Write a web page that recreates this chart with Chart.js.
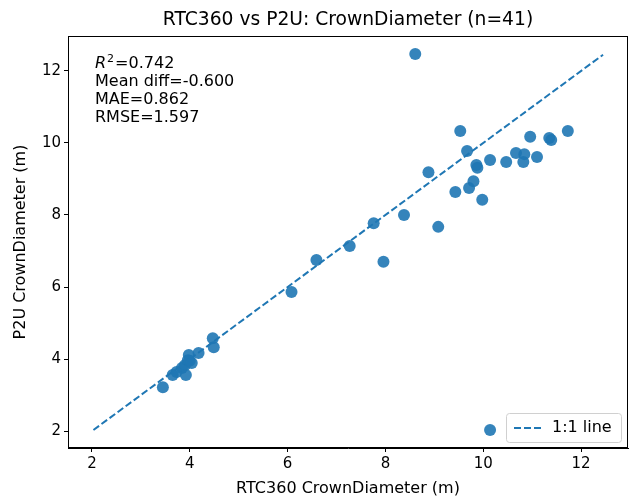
<!DOCTYPE html>
<html>
<head>
<meta charset="utf-8">
<script src="https://cdn.jsdelivr.net/npm/chart.js@4/dist/chart.umd.min.js"></script>
<style>
  body { margin: 0; background: #fff; }
</style>
</head>
<body>
<canvas id="chart1" width="635" height="498"></canvas>
<script>
const rtc360 = [3.45, 3.65, 3.73, 3.84, 3.90, 3.92, 3.96, 3.98, 4.00, 4.04, 4.18, 4.47, 4.49,
  6.08, 6.59, 7.27, 7.76, 7.96, 8.38, 8.61, 8.88, 9.08, 9.43, 9.53, 9.67, 9.71, 9.80, 9.86,
  9.88, 9.98, 10.14, 10.14, 10.47, 10.67, 10.82, 10.84, 10.96, 11.10, 11.35, 11.39, 11.73];
const p2u = [3.22, 3.56, 3.64, 3.75, 3.83, 3.56, 3.97, 4.11, 3.95, 3.89, 4.17, 4.58, 4.33,
  5.86, 6.75, 7.14, 7.77, 6.70, 8.00, 12.47, 9.19, 7.67, 8.64, 10.33, 9.78, 8.75, 8.94, 9.39,
  9.31, 8.42, 9.53, 2.03, 9.47, 9.72, 9.47, 9.69, 10.17, 9.61, 10.14, 10.08, 10.33];
const lineEnds = [2.03, 12.45];
const tickValues = [2, 4, 6, 8, 10, 12];
const statLines = ["=0.742", "Mean diff=-0.600", "MAE=0.862", "RMSE=1.597"];
const titleText = "RTC360 vs P2U: CrownDiameter (n=41)";

const blue = "#1f77b4";
const font = "DejaVu Sans";

const extras = {
  id: "extras",
  afterDraw(chart) {
    const { ctx, chartArea: a } = chart;
    ctx.save();
    // title, centred over the plot area
    ctx.fillStyle = "#000";
    ctx.textAlign = "center";
    ctx.textBaseline = "middle";
    ctx.font = "18.7px " + font;
    ctx.fillText(titleText, (a.left + a.right) / 2, 20);
    // frame
    ctx.strokeStyle = "#000";
    ctx.lineWidth = 1;
    ctx.strokeRect(a.left + 0.5, a.top + 0.5, a.right - a.left - 1, a.bottom - a.top - 1);
    // stats
    ctx.textAlign = "left";
    const x0 = a.left + 27;
    let y0 = a.top + 28;
    ctx.font = "italic 16px " + font;
    ctx.fillText("R", x0, y0);
    const rw = ctx.measureText("R").width;
    ctx.font = "11px " + font;
    ctx.fillText("2", x0 + rw + 1, y0 - 5);
    const sw = ctx.measureText("2").width;
    ctx.font = "16px " + font;
    ctx.fillText(statLines[0], x0 + rw + sw + 2, y0);
    for (let i = 1; i < statLines.length; i++) {
      ctx.fillText(statLines[i], x0, y0 + i * 18);
    }
    // legend
    const lx = 506, ly = 413, lw = 115, lh = 29;
    ctx.fillStyle = "rgba(255,255,255,0.8)";
    ctx.strokeStyle = "#d0d0d0";
    ctx.beginPath();
    ctx.roundRect(lx + 0.5, ly + 0.5, lw, lh, 3);
    ctx.fill();
    ctx.stroke();
    ctx.strokeStyle = blue;
    ctx.lineWidth = 2;
    ctx.setLineDash([7, 3]);
    ctx.beginPath();
    ctx.moveTo(lx + 8, ly + 15);
    ctx.lineTo(lx + 36, ly + 15);
    ctx.stroke();
    ctx.setLineDash([]);
    ctx.fillStyle = "#000";
    ctx.font = "16px " + font;
    ctx.fillText("1:1 line", lx + 46, ly + 15);
    ctx.restore();
  }
};

new Chart(document.getElementById("chart1"), {
  type: "scatter",
  data: {
    datasets: [
      {
        label: "points",
        data: rtc360.map((v, i) => ({ x: v, y: p2u[i] })),
        backgroundColor: "rgba(31,119,180,0.9)",
        borderWidth: 0,
        pointRadius: 6,
        order: 1
      },
      {
        label: "1:1 line",
        type: "line",
        data: lineEnds.map(v => ({ x: v, y: v })),
        borderColor: blue,
        borderWidth: 2,
        borderDash: [7, 3],
        pointRadius: 0,
        fill: false,
        order: 2
      }
    ]
  },
  plugins: [extras],
  options: {
    responsive: false,
    animation: false,
    layout: { padding: { left: 0, right: 7, top: 36, bottom: 0 } },
    plugins: {
      legend: { display: false },
      tooltip: { enabled: false },
      title: { display: false }
    },
    scales: {
      x: {
        type: "linear",
        min: 1.51,
        max: 12.96,
        afterBuildTicks: s => { s.ticks = tickValues.map(v => ({ value: v })); },
        afterFit: s => { s.height = 50; },
        grid: { drawOnChartArea: false, tickLength: 4, tickColor: "#000" },
        border: { color: "#000" },
        ticks: { color: "#000", font: { family: font, size: 15 }, padding: 3 },
        title: {
          display: true,
          text: "RTC360 CrownDiameter (m)",
          color: "#000",
          font: { family: font, size: 16 },
          padding: { top: 3, bottom: 0 }
        }
      },
      y: {
        type: "linear",
        min: 1.53,
        max: 12.97,
        afterBuildTicks: s => { s.ticks = tickValues.map(v => ({ value: v })); },
        afterFit: s => { s.width = 68; },
        grid: { drawOnChartArea: false, tickLength: 4, tickColor: "#000" },
        border: { color: "#000" },
        ticks: { color: "#000", font: { family: font, size: 15 }, padding: 3 },
        title: {
          display: true,
          text: "P2U CrownDiameter (m)",
          color: "#000",
          font: { family: font, size: 16 },
          padding: { top: 11, bottom: 0 }
        }
      }
    }
  }
});
</script>
</body>
</html>
